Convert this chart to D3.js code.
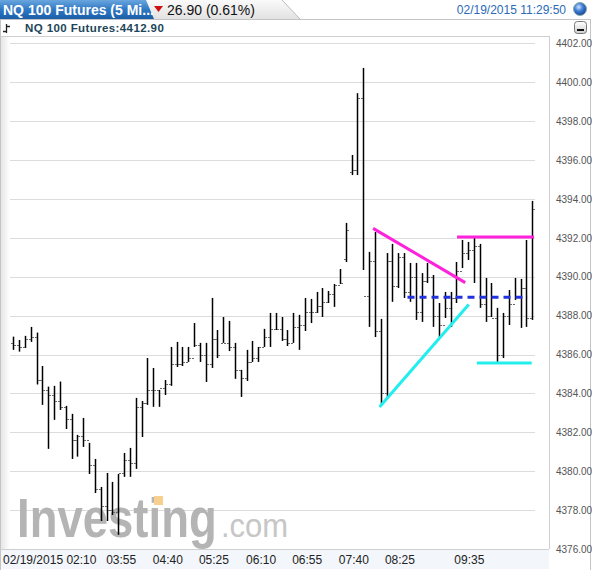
<!DOCTYPE html>
<html><head><meta charset="utf-8">
<script src="https://cdn.jsdelivr.net/npm/d3@7"></script>
<style>html,body{margin:0;padding:0;background:#fff;}svg{display:block;font-family:"Liberation Sans",Arial,sans-serif;}</style>
</head><body><svg id="c" width="592" height="570"></svg>
<script>
// ---- data ----
const highs = [4386.92,4386.75,4386.96,4387.42,4387.13,4385.41,4384.35,4384.39,4384.61,4383.36,
4382.95,4381.87,4382.74,4381.46,4380.63,4379.19,4379.91,4379.45,4379.86,4380.94,
4381.2,4383.77,4383.61,4385.82,4385.31,4384.18,4384.69,4386.39,4386.65,4386.39,
4386.39,4387.62,4386.6,4386.6,4388.91,4387.26,4387.93,4387.73,4386.6,4385.21,
4386.24,4386.7,4386.39,4387.32,4388.14,4388.14,4387.93,4387.26,4388.14,4388.04,
4388.91,4388.86,4389.22,4389.42,4389.27,4389.63,4390.4,4392.77,4396.26,4399.44,
4400.74,4391.28,4392.3,4387.83,4391.22,4391.69,4391.22,4391.22,4390.71,4390.71,
4390.19,4390.71,4390.09,4388.65,4389.22,4389.22,4390.76,4391.89,4391.79,4392.05,
4391.69,4389.94,4389.68,4388.4,4388.14,4389.32,4389.94,4389.89,4391.89,4393.9];
const lows = [4386.24,4386.15,4386.34,4386.65,4384.46,4383.41,4381.15,4382.64,4383.15,4382.17,
4380.63,4380.75,4381.25,4379.86,4378.88,4377.44,4377.44,4377.75,4376.73,4379.71,
4379.71,4380.12,4381.76,4383.41,4383.31,4383.31,4383.92,4384.39,4385.36,4385.41,
4385.62,4386.39,4385.62,4384.59,4385.31,4385.82,4386.6,4386.18,4384.75,4383.82,
4384.64,4385.62,4385.62,4386.39,4386.39,4387.26,4386.7,4386.44,4386.6,4386.24,
4387.21,4387.62,4388.14,4387.93,4388.65,4388.45,4389.63,4390.76,4395.23,4395.23,
4390.35,4387.42,4386.9,4383.41,4383.82,4388.71,4389.42,4388.91,4388.71,4387.78,
4387.68,4389.68,4387.42,4386.9,4387.88,4387.42,4388.65,4390.45,4390.86,4389.68,
4388.4,4387.68,4387.93,4385.62,4385.82,4387.52,4388.81,4387.37,4387.42,4387.78];
const opens = [4386.6,4386.5,4386.4,4386.8,4386.9,4384.7,4384.2,4383.9,4383.6,4383.3,
4382.7,4381.6,4381.8,4381.6,4380.3,4379.1,4378.2,4378.0,4377.9,4379.9,
4380.6,4380.4,4383.3,4383.5,4384.2,4384.2,4384.3,4384.5,4385.5,4385.5,
4385.6,4385.8,4386.5,4386.0,4385.5,4386.8,4386.6,4386.6,4386.4,4385.2,
4384.8,4385.6,4385.8,4386.4,4386.9,4387.3,4387.3,4386.8,4386.6,4387.4,
4387.5,4388.2,4388.2,4388.5,4388.7,4389.1,4389.6,4390.9,4395.4,4395.5,
4399.2,4389.0,4390.8,4387.2,4384.0,4390.8,4389.5,4391.0,4389.2,4390.0,
4388.2,4389.8,4390.0,4388.0,4387.5,4388.4,4388.9,4390.3,4391.2,4391.4,
4391.6,4388.6,4388.0,4387.9,4386.0,4388.0,4388.6,4389.0,4389.4,4387.9];
const closes = [4386.5,4386.4,4386.8,4386.9,4384.7,4384.2,4383.9,4383.6,4383.3,4382.7,
4381.6,4381.8,4381.6,4380.3,4379.1,4378.2,4378.0,4377.9,4379.9,4380.6,
4380.4,4383.3,4383.5,4384.2,4384.2,4384.3,4384.5,4385.5,4385.5,4385.6,
4385.8,4386.5,4386.0,4385.5,4386.8,4386.0,4386.6,4386.4,4385.2,4384.8,
4385.6,4385.8,4386.4,4386.9,4387.3,4387.3,4386.8,4386.6,4387.4,4387.5,
4388.2,4388.2,4388.5,4388.7,4389.1,4389.6,4389.7,4392.4,4395.5,4399.2,
4389.0,4390.8,4387.2,4384.0,4390.8,4389.5,4391.0,4389.2,4390.0,4388.2,
4389.8,4390.0,4388.0,4387.5,4388.4,4388.9,4390.3,4391.2,4391.4,4391.6,
4388.6,4388.0,4387.9,4386.0,4388.0,4388.6,4389.0,4389.4,4387.9,4393.5];
const yTicks = [4376,4378,4380,4382,4384,4386,4388,4390,4392,4394,4396,4398,4400,4402];
const xTickLabels = ["02/19/2015 02:10","03:55","04:40","05:25","06:10","06:55","07:40","08:25","09:35"];
const xTickIdx = [0,18.5,26.5,34.4,42.5,50.4,58.4,66.3,78.2];
// drawn annotations: [idx1, val1, idx2, val2]
const magentaLines = [[61.7,4392.49,77.5,4389.70],[76.1,4392.05,89.3,4392.05]];
const cyanLines = [[62.8,4383.30,78.1,4388.57],[79.5,4385.57,88.9,4385.57]];
const blueDashed = [[67.6,4388.95,88.2,4388.95]];
const title = "NQ 100 Futures (5 Mi...";
const change = "26.90 (0.61%)";
const stamp = "02/19/2015 11:29:50";
const subTitle = "NQ 100 Futures:4412.90";

// ---- drawing ----
const svg = d3.select("#c");
const defs = svg.append("defs");
const g1 = defs.append("linearGradient").attr("id","tab").attr("x1",0).attr("y1",0).attr("x2",0).attr("y2",1);
g1.append("stop").attr("offset","0").attr("stop-color","#6aa6de");
g1.append("stop").attr("offset","0.5").attr("stop-color","#2f78c4");
g1.append("stop").attr("offset","1").attr("stop-color","#1b5ea8");
const g2 = defs.append("linearGradient").attr("id","strip").attr("x1",0).attr("y1",0).attr("x2",0).attr("y2",1);
g2.append("stop").attr("offset","0").attr("stop-color","#fafafa");
g2.append("stop").attr("offset","1").attr("stop-color","#e2e2e2");
const g3 = defs.append("radialGradient").attr("id","ball").attr("cx","0.4").attr("cy","0.35").attr("r","0.7");
g3.append("stop").attr("offset","0").attr("stop-color","#cfe4ff");
g3.append("stop").attr("offset","0.45").attr("stop-color","#3f7fd6");
g3.append("stop").attr("offset","1").attr("stop-color","#123f8a");
const g4 = defs.append("linearGradient").attr("id","btn").attr("x1",0).attr("y1",0).attr("x2",0).attr("y2",1);
g4.append("stop").attr("offset","0").attr("stop-color","#ffffff");
g4.append("stop").attr("offset","1").attr("stop-color","#d0d0d0");
const g5 = defs.append("linearGradient").attr("id","lstrip").attr("x1",0).attr("y1",0).attr("x2",1).attr("y2",0);
g5.append("stop").attr("offset","0").attr("stop-color","#e6e6e6");
g5.append("stop").attr("offset","1").attr("stop-color","#ffffff");

// header strip
svg.append("path").attr("d","M0,0 H282 L300,19 H0 Z").attr("fill","url(#strip)");
svg.append("path").attr("d","M282,0 L300,19").attr("stroke","#bbb").attr("fill","none");
svg.append("path").attr("d","M0,0 H146 L154,19 H0 Z").attr("fill","url(#tab)");
svg.append("text").attr("x",3).attr("y",15).attr("fill","#fff").attr("font-weight","bold").attr("font-size",14).text(title);
svg.append("path").attr("d","M154,6 H163 L158.5,12 Z").attr("fill","#cc1111");
svg.append("text").attr("x",167).attr("y",15).attr("fill","#111").attr("font-size",14).text(change);
svg.append("text").attr("x",566).attr("y",14).attr("text-anchor","end").attr("fill","#2a6ab8").attr("font-size",12).text(stamp);
svg.append("circle").attr("cx",580).attr("cy",9).attr("r",6.5).attr("fill","url(#ball)").attr("stroke","#8aa","stroke-width",0.5);

// panel
svg.append("rect").attr("x",0.5).attr("y",19.5).attr("width",590).attr("height",551).attr("fill","none").attr("stroke","#c4c4c4");
svg.append("rect").attr("x",1).attr("y",36).attr("width",548).attr("height",513).attr("fill","#ffffff");
svg.append("rect").attr("x",1).attr("y",36).attr("width",9).attr("height",513).attr("fill","url(#lstrip)");
svg.append("line").attr("x1",0).attr("x2",549).attr("y1",36.5).attr("y2",36.5).attr("stroke","#cfcfcf");
svg.append("line").attr("x1",549.5).attr("x2",549.5).attr("y1",36).attr("y2",549).attr("stroke","#cfcfcf");
svg.append("line").attr("x1",0).attr("x2",549).attr("y1",549.5).attr("y2",549.5).attr("stroke","#cfcfcf");
svg.append("rect").attr("x",1).attr("y",550).attr("width",548).attr("height",19).attr("fill","#f3f6fa");
// sub header
svg.append("path").attr("d","M6.5,33 V24 M6.5,26.5 H10 M3,31.5 H6.5").attr("stroke","#222").attr("stroke-width",1.3).attr("fill","none");
svg.append("text").attr("x",25).attr("y",32).attr("fill","#1c4658").attr("font-weight","bold").attr("font-size",11.5).attr("letter-spacing",0.4).text(subTitle);
svg.append("rect").attr("x",574.5).attr("y",21.5).attr("width",12).attr("height",12).attr("rx",3).attr("fill","url(#btn)").attr("stroke","#777");
svg.append("rect").attr("x",577).attr("y",29).attr("width",7).attr("height",2).attr("fill","#111");

const x = d3.scaleLinear().domain([0, highs.length-1]).range([13.3, 532.3]);
const y = d3.scaleLinear().domain([4376, 4402]).range([549, 43.4]);

// grid
svg.append("g").selectAll("line").data(yTicks.filter(t=>t>4376)).join("line")
  .attr("x1",10).attr("x2",535).attr("y1",d=>Math.round(y(d))+0.5).attr("y2",d=>Math.round(y(d))+0.5)
  .attr("stroke","#dcdcdc");

// watermark
const wm = svg.append("g");
wm.append("text").attr("transform","translate(17,537) scale(1,1.22)").attr("font-size",45.5).attr("font-weight","bold").attr("fill","#b4b4b4")
  .text("Investing");
wm.append("rect").attr("x",154).attr("y",496).attr("width",9).attr("height",9).attr("fill","#f7cf8e");
wm.append("text").attr("transform","translate(221,537) scale(1,1.1)").attr("font-size",31).attr("fill","#c6c6c6")
  .text(".com");

// y axis
const yAxis = d3.axisRight(y).tickValues(yTicks).tickSize(0).tickPadding(0).tickFormat(d3.format(".2f"));
const ya = svg.append("g").attr("transform","translate(556,0)").call(yAxis);
ya.select(".domain").remove();
ya.selectAll("text").attr("fill","#555").attr("font-size",10).attr("font-family","Liberation Sans, Arial, sans-serif");

// x labels
svg.append("g").selectAll("text").data(xTickLabels).join("text")
  .attr("x",(d,i)=> i===0 ? 3 : x(xTickIdx[i]))
  .attr("text-anchor",(d,i)=> i===0 ? "start" : "middle")
  .attr("y",564).attr("font-size",12).attr("fill","#222").text(d=>d);

// OHLC bars
const bars = svg.append("g");
const idx = d3.range(highs.length);
bars.selectAll("line.hl").data(idx).join("line").attr("class","hl")
  .attr("x1",i=>Math.round(x(i))+0.5).attr("x2",i=>Math.round(x(i))+0.5)
  .attr("y1",i=>y(highs[i])).attr("y2",i=>y(lows[i]))
  .attr("stroke","#000").attr("stroke-width",1.5);
bars.selectAll("line.o").data(idx).join("line").attr("class","o")
  .attr("x1",i=>Math.round(x(i))-2).attr("x2",i=>Math.round(x(i)))
  .attr("y1",i=>Math.round(y(opens[i]))+0.5).attr("y2",i=>Math.round(y(opens[i]))+0.5)
  .attr("stroke","#666").attr("stroke-width",1);
bars.selectAll("line.c").data(idx).join("line").attr("class","c")
  .attr("x1",i=>Math.round(x(i))+1).attr("x2",i=>Math.round(x(i))+3)
  .attr("y1",i=>Math.round(y(closes[i]))+0.5).attr("y2",i=>Math.round(y(closes[i]))+0.5)
  .attr("stroke","#666").attr("stroke-width",1);

// annotations
function drawLines(data, color, dash){
  svg.append("g").selectAll("line").data(data).join("line")
    .attr("x1",d=>x(d[0])).attr("y1",d=>y(d[1])).attr("x2",d=>x(d[2])).attr("y2",d=>y(d[3]))
    .attr("stroke",color).attr("stroke-width",3).attr("stroke-dasharray",dash||null);
}
drawLines(magentaLines,"#ff22dd");
drawLines(cyanLines,"#22eeee");
drawLines(blueDashed,"#2233dd","7,5");
</script></body></html>
